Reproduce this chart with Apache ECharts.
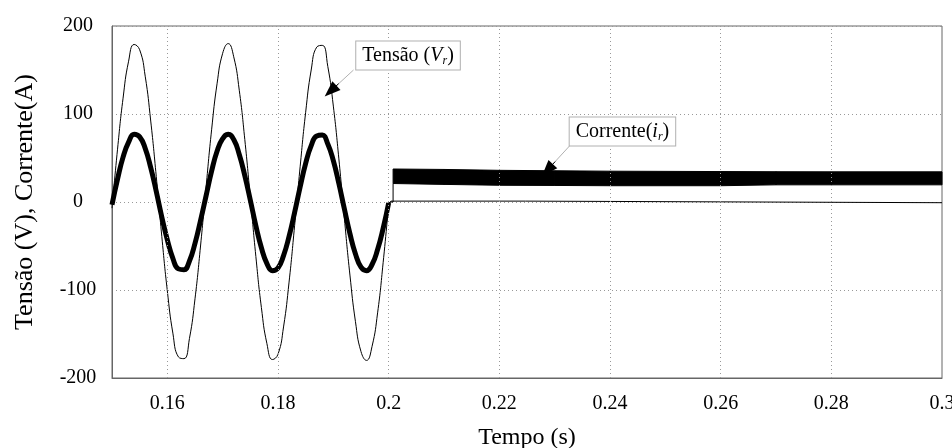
<!DOCTYPE html>
<html><head><meta charset="utf-8">
<script src="https://cdn.jsdelivr.net/npm/echarts@6/dist/echarts.min.js"></script>
<style>html,body{margin:0;padding:0;background:#fff}#c{width:952px;height:448px}</style>
</head><body><div id="c"></div>
<script>
// ---- data ----
const xGridTicks = [0.16, 0.18, 0.2, 0.22, 0.24, 0.26, 0.28];
const sineT = [0.150,0.151,0.152,0.153,0.154,0.155,0.156,0.157,0.158,0.159,
               0.160,0.161,0.162,0.163,0.164,0.165,0.166,0.167,0.168,0.169,
               0.170,0.171,0.172,0.173,0.174,0.175,0.176,0.177,0.178,0.179,
               0.180,0.181,0.182,0.183,0.184,0.185,0.186,0.187,0.188,0.189,
               0.190,0.191,0.192,0.193,0.194,0.195,0.196,0.197,0.198,0.199,0.200];
const voltageSine = [-7,60,118,160,179,173,143,92,29,-39,
                     -101,-149,-176,-178,-155,-110,-50,17,82,135,
                     169,180,165,127,71,5,-62,-120,-161,-179,
                     -173,-142,-91,-27,40,102,150,176,178,154,
                     109,49,-19,-83,-136,-170,-180,-164,-126,-69,-3];
const currentSine = [-3,26,51,68,77,74,61,39,12,-17,
                     -43,-64,-76,-77,-67,-47,-21,7,35,58,
                     72,77,71,54,30,2,-27,-52,-70,-78,
                     -75,-61,-39,-12,17,44,64,75,76,66,
                     47,21,-8,-36,-59,-74,-78,-71,-54,-30,-1];
const voltageTailT = [0.200, 0.2004, 0.2247, 0.2248, 0.300];
const voltageTail  = [-3, 1, 1, -0.8, -0.8];
const currentJumpT = [0.200, 0.2004, 0.2008, 0.2008];
const currentJump  = [-1, 0, 0, 21];
const bandT    = [0.2008, 0.21, 0.22, 0.23, 0.24, 0.26, 0.27, 0.28, 0.30];
const bandLow  = [21, 20, 19, 18.8, 18.5, 18.5, 19.5, 19.5, 19.5];
const bandHigh = [37.5, 37, 36, 35.5, 35, 34.6, 34.4, 34.3, 34.3];

// ---- chart ----
const zip = (a, b) => a.map((x, i) => [x, b[i]]);
const FONT = 'Liberation Serif';
const chart = echarts.init(document.getElementById('c'), null, {renderer: 'canvas'});

const labelBox = {
  show: true, position: 'inside', color: '#000', fontSize: 20, fontFamily: FONT,
  backgroundColor: '#fff', borderColor: '#b0b0b0', borderWidth: 1, padding: [4, 6, 3, 6],
  rich: {
    v: {fontStyle: 'italic', fontSize: 20, fontFamily: FONT, color: '#000'},
    r: {fontStyle: 'italic', fontSize: 12, fontFamily: FONT, color: '#000', verticalAlign: 'bottom', padding: [9, 0, 0, 0]}
  }
};
const gray = {color: '#b0b0b0', width: 1, type: 'solid'};
const black = {color: '#000', width: 1, type: 'solid'};

const option = {
  animation: false,
  textStyle: {fontFamily: FONT, color: '#000'},
  grid: {left: 112, right: 10, top: 26, bottom: 70, show: true, borderColor: '#666', borderWidth: 1,
         outerBoundsMode: 'none', containLabel: false},
  xAxis: {
    type: 'value', min: 0.15, max: 0.3, interval: 0.01,
    name: 'Tempo (s)', nameLocation: 'middle', nameGap: 48,
    nameTextStyle: {fontSize: 24, color: '#000', fontFamily: FONT},
    axisLine: {show: true, onZero: false, lineStyle: {color: '#666'}},
    axisTick: {show: false}, splitLine: {show: false},
    axisLabel: {fontSize: 20, color: '#000', margin: 16, fontFamily: FONT,
      formatter: v => { const k = Math.round(v * 100); return k % 2 === 0 ? String(k / 100) : ''; }}
  },
  yAxis: {
    type: 'value', min: -200, max: 200, interval: 100,
    name: 'Tensão (V), Corrente(A)', nameLocation: 'middle', nameGap: 74,
    nameTextStyle: {fontSize: 26, color: '#000', fontFamily: FONT},
    axisLine: {show: true, lineStyle: {color: '#666'}},
    axisTick: {show: false},
    splitLine: {show: true, lineStyle: {color: '#999', type: [1, 3], width: 1}},
    axisLabel: {fontSize: 20, color: '#000', margin: 34, align: 'center', fontFamily: FONT}
  },
  series: [
    { // vertical dotted grid lines
      type: 'line', data: [], z: 1, silent: true,
      markLine: {silent: true, symbol: 'none', label: {show: false},
        lineStyle: {color: '#999', type: [1, 3], width: 1},
        data: xGridTicks.map(x => ({xAxis: x}))}
    },
    {type: 'line', name: 'Corrente', data: zip(sineT, currentSine), smooth: true, showSymbol: false,
      lineStyle: {color: '#000', width: 5}, z: 2},
    {type: 'line', name: 'CorrenteSalto', data: zip(currentJumpT, currentJump), showSymbol: false,
      lineStyle: {color: '#000', width: 1}, z: 2},
    { // ripple band of the current after 0.2 s
      type: 'custom', name: 'CorrenteBanda', z: 2, silent: true,
      data: bandT.map((t, i) => [t, bandLow[i], bandHigh[i]]),
      encode: {x: 0, y: [1, 2]},
      renderItem: (params, api) => {
        const i = params.dataIndex;
        if (i >= bandT.length - 1) return null;
        const pts = [
          api.coord([bandT[i], bandHigh[i]]),
          api.coord([bandT[i + 1], bandHigh[i + 1]]),
          api.coord([bandT[i + 1], bandLow[i + 1]]),
          api.coord([bandT[i], bandLow[i]])
        ];
        return {type: 'polygon', shape: {points: pts},
          style: {fill: '#000', stroke: '#000', lineWidth: 1}};
      }
    },
    {type: 'line', name: 'Tensão', data: zip(sineT, voltageSine), smooth: true, showSymbol: false,
      lineStyle: {color: '#000', width: 1}, z: 3},
    {type: 'line', name: 'TensãoCauda', data: zip(voltageTailT, voltageTail), showSymbol: false,
      lineStyle: {color: '#000', width: 1}, z: 3},
    { // annotations
      type: 'line', data: [], z: 5,
      markLine: {
        silent: true, label: {show: false}, symbol: 'none', symbolSize: [12, 16],
        data: [
          [{coord: [0.19365, 150], lineStyle: gray}, {coord: [0.1895, 126]}],
          [{coord: [0.19095, 134.4], lineStyle: black, itemStyle: {color: '#000'}, symbol: 'none'},
           {coord: [0.1895, 126], symbol: 'triangle', symbolSize: [12, 16], itemStyle: {color: '#000'}}],
          [{coord: [0.23267, 63.6], lineStyle: gray}, {coord: [0.2287, 36.4]}],
          [{coord: [0.23009, 45.9], lineStyle: black, itemStyle: {color: '#000'}, symbol: 'none'},
           {coord: [0.2287, 36.4], symbol: 'triangle', symbolSize: [12, 16], itemStyle: {color: '#000'}}]
        ]
      },
      markPoint: {
        silent: true, symbol: 'rect', symbolSize: 1, itemStyle: {color: 'rgba(0,0,0,0)'},
        label: labelBox,
        data: [
          {coord: [0.2035, 166.5], label: {formatter: 'Tensão ({v|V}{r|r})'}},
          {coord: [0.24225, 80], label: {formatter: 'Corrente({v|i}{r|r})'}}
        ]
      }
    }
  ]
};
chart.setOption(option);
</script>
</body></html>
